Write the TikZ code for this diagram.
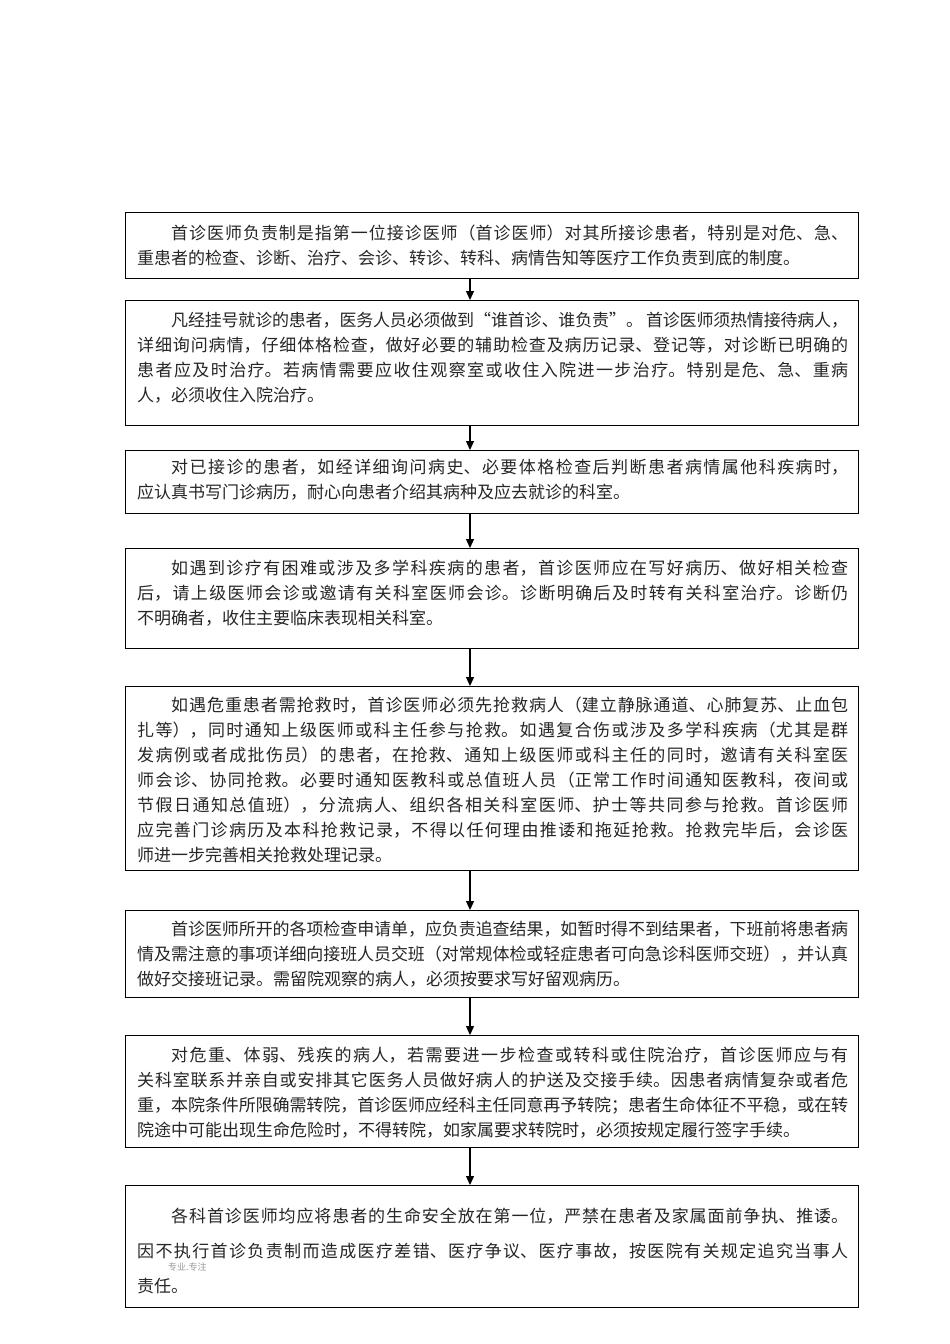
\documentclass[tikz,border=0pt]{standalone}
\usepackage{fontspec}
\newfontfamily\cjk{Noto Sans CJK SC}
\usetikzlibrary{arrows.meta}
\XeTeXlinebreaklocale "zh"
\XeTeXlinebreakskip=0pt plus 4pt minus 0.3pt
\begin{document}
\begin{tikzpicture}[x=1pt,y=-1pt,
  box/.style={draw=black,line width=1.1pt,minimum width=733pt,inner sep=0pt,anchor=north west},
  txt/.style={anchor=north west,inner sep=0pt,text width=711pt,align=justify,text=black!85,
    font={\cjk\fontsize{17}{25}\selectfont}},
  txtb/.style={txt,font={\cjk\fontsize{17}{35}\selectfont}},
  arr/.style={line width=1.3pt,-{Triangle[width=8pt,length=9pt]}}]
\useasboundingbox (0,0) rectangle (950,1344);
\fill[white] (0,0) rectangle (950,1344);
\coordinate (ax) at (470,0);
% boxes
\node[box,minimum height=66pt]  (b1) at (125,212) {};
\node[box,minimum height=125pt] (b2) at (125,300) {};
\node[box,minimum height=63pt]  (b3) at (125,450) {};
\node[box,minimum height=100pt] (b4) at (125,548) {};
\node[box,minimum height=184pt] (b5) at (125,686) {};
\node[box,minimum height=87pt]  (b6) at (125,910) {};
\node[box,minimum height=112pt] (b7) at (125,1035) {};
\node[box,minimum height=122pt] (b8) at (125,1185) {};
% texts
\node[txt] (t1) at (137,225) {\hspace*{2em}首诊医师负责制是指第一位接诊医师（首诊医师）对其所接诊患者，特别是对危、急、\linebreak 重患者的检查、诊断、治疗、会诊、转诊、转科、病情告知等医疗工作负责到底的制度。};
\node[txt] (t2) at (137,312) {\hspace*{2em}凡经挂号就诊的患者，医务人员必须做到“谁首诊、谁负责”。 首诊医师须热情接待病人，\linebreak 详细询问病情，仔细体格检查，做好必要的辅助检查及病历记录、登记等，对诊断已明确的\linebreak 患者应及时治疗。若病情需要应收住观察室或收住入院进一步治疗。特别是危、急、重病\linebreak 人，必须收住入院治疗。};
\node[txt] (t3) at (137,459) {\hspace*{2em}对已接诊的患者，如经详细询问病史、必要体格检查后判断患者病情属他科疾病时，\linebreak 应认真书写门诊病历，耐心向患者介绍其病种及应去就诊的科室。};
\node[txt] (t4) at (137,560) {\hspace*{2em}如遇到诊疗有困难或涉及多学科疾病的患者，首诊医师应在写好病历、做好相关检查\linebreak 后，请上级医师会诊或邀请有关科室医师会诊。诊断明确后及时转有关科室治疗。诊断仍\linebreak 不明确者，收住主要临床表现相关科室。};
\node[txt] (t5) at (137,697) {\hspace*{2em}如遇危重患者需抢救时，首诊医师必须先抢救病人（建立静脉通道、心肺复苏、止血包\linebreak 扎等），同时通知上级医师或科主任参与抢救。如遇复合伤或涉及多学科疾病（尤其是群\linebreak 发病例或者成批伤员）的患者，在抢救、通知上级医师或科主任的同时，邀请有关科室医\linebreak 师会诊、协同抢救。必要时通知医教科或总值班人员（正常工作时间通知医教科，夜间或\linebreak 节假日通知总值班），分流病人、组织各相关科室医师、护士等共同参与抢救。首诊医师\linebreak 应完善门诊病历及本科抢救记录，不得以任何理由推诿和拖延抢救。抢救完毕后，会诊医\linebreak 师进一步完善相关抢救处理记录。};
\node[txt] (t6) at (137,921) {\hspace*{2em}首诊医师所开的各项检查申请单，应负责追查结果，如暂时得不到结果者，下班前将患者病\linebreak 情及需注意的事项详细向接班人员交班（对常规体检或轻症患者可向急诊科医师交班），并认真\linebreak 做好交接班记录。需留院观察的病人，必须按要求写好留观病历。};
\node[txt] (t7) at (137,1047) {\hspace*{2em}对危重、体弱、残疾的病人，若需要进一步检查或转科或住院治疗，首诊医师应与有\linebreak 关科室联系并亲自或安排其它医务人员做好病人的护送及交接手续。因患者病情复杂或者危\linebreak 重，本院条件所限确需转院，首诊医师应经科主任同意再予转院；患者生命体征不平稳，或在转\linebreak 院途中可能出现生命危险时，不得转院，如家属要求转院时，必须按规定履行签字手续。};
\node[txtb] (t8) at (137,1208) {\hspace*{2em}各科首诊医师均应将患者的生命安全放在第一位，严禁在患者及家属面前争执、推诿。\linebreak 因不执行首诊负责制而造成医疗差错、医疗争议、医疗事故，按医院有关规定追究当事人\linebreak 责任。};
\node[anchor=west,inner sep=0pt,text=black!40,font={\cjk\fontsize{9}{10}\selectfont}] (wm) at (168,1267) {专业.专注};
% arrows
\draw[arr] (b1.south -| ax) -- (b2.north -| ax);
\draw[arr] (b2.south -| ax) -- (b3.north -| ax);
\draw[arr] (b3.south -| ax) -- (b4.north -| ax);
\draw[arr] (b4.south -| ax) -- (b5.north -| ax);
\draw[arr] (b5.south -| ax) -- (b6.north -| ax);
\draw[arr] (b6.south -| ax) -- (b7.north -| ax);
\draw[arr] (b7.south -| ax) -- (b8.north -| ax);
\end{tikzpicture}
\end{document}
